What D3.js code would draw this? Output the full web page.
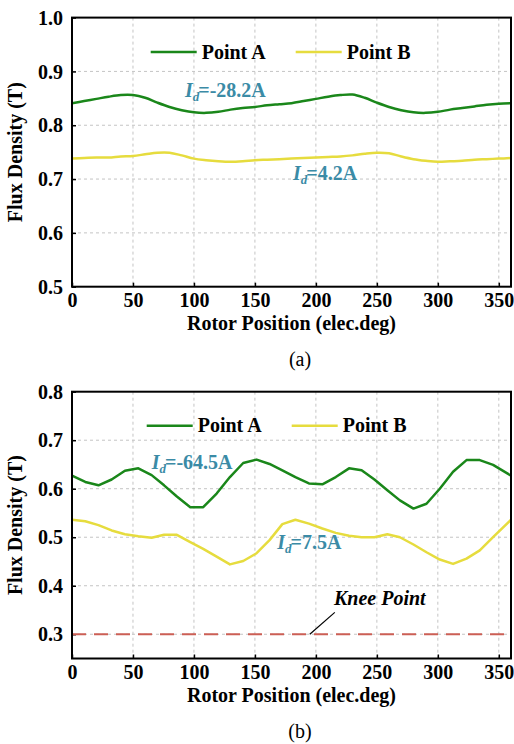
<!DOCTYPE html>
<html>
<head>
<meta charset="utf-8">
<script src="https://cdn.jsdelivr.net/npm/d3@7"></script>
<style>
  html, body { margin: 0; padding: 0; background: #fff; }
  svg { display: block; }
</style>
</head>
<body>
<svg id="fig" width="514" height="744"></svg>
<script>
// ---- Panel (a): Id = -28.2 A / 4.2 A ----
const anglesA = [0, 10, 20, 30, 40, 50, 60, 70, 80, 90, 100, 110, 120, 130, 140, 150, 160, 170, 180,
  190, 200, 210, 220, 230, 240, 250, 260, 270, 280, 290, 300, 310, 320, 330, 340, 350, 360];
const pointA_a = [0.841, 0.845, 0.849, 0.853, 0.856, 0.856, 0.851, 0.842, 0.834, 0.828, 0.824, 0.823,
  0.825, 0.829, 0.832, 0.834, 0.837, 0.839, 0.841, 0.845, 0.849, 0.853, 0.856, 0.857, 0.851, 0.842,
  0.834, 0.828, 0.824, 0.823, 0.825, 0.829, 0.832, 0.835, 0.838, 0.840, 0.841];
const pointB_a = [0.738, 0.739, 0.740, 0.740, 0.742, 0.743, 0.746, 0.749, 0.749, 0.744, 0.738, 0.735,
  0.733, 0.732, 0.733, 0.735, 0.736, 0.737, 0.738, 0.739, 0.740, 0.741, 0.742, 0.744, 0.747, 0.749,
  0.748, 0.742, 0.737, 0.734, 0.732, 0.733, 0.734, 0.736, 0.737, 0.738, 0.739];

// ---- Panel (b): Id = -64.5 A / 7.5 A ----
const anglesB = [0, 10.9, 21.7, 32.5, 43.4, 54.4, 65.3, 75.5, 86, 97, 107.6, 118.6, 129.5, 140.4,
  151.4, 162, 172.5, 183.2, 194.3, 205.3, 216.3, 227.2, 237.5, 248, 258.6, 268.9, 280, 290.7, 301.6,
  312.5, 323.5, 334.4, 345.3, 360];
const pointA_b = [0.627, 0.614, 0.607, 0.619, 0.637, 0.642, 0.628, 0.607, 0.584, 0.562, 0.562, 0.590,
  0.624, 0.653, 0.660, 0.651, 0.638, 0.624, 0.611, 0.609, 0.624, 0.642, 0.638, 0.619, 0.597, 0.576,
  0.559, 0.569, 0.600, 0.635, 0.659, 0.659, 0.649, 0.627];
const pointB_b = [0.536, 0.533, 0.525, 0.514, 0.506, 0.502, 0.499, 0.505, 0.505, 0.490, 0.476, 0.460,
  0.444, 0.451, 0.467, 0.494, 0.527, 0.536, 0.528, 0.518, 0.509, 0.503, 0.500, 0.500, 0.506, 0.500,
  0.485, 0.469, 0.454, 0.445, 0.456, 0.473, 0.500, 0.536];
const kneeFlux = 0.3;

// ---- Axis ticks and labels ----
const xTicks = [0, 50, 100, 150, 200, 250, 300, 350];
const yTicksA = [0.5, 0.6, 0.7, 0.8, 0.9, 1.0];
const yTicksB = [0.3, 0.4, 0.5, 0.6, 0.7, 0.8];
const seriesNames = ["Point A", "Point B"];
const xTitle = "Rotor Position (elec.deg)";
const yTitle = "Flux Density (T)";

const GREEN = "#1a871a";
const YELLOW = "#e6dc3e";
const TEAL = "#3b8ba6";
const KNEE = "#cc5f55";
const FS = 20;
const SERIF = "'Liberation Serif', 'Times New Roman', Tinos, 'DejaVu Serif', serif";

const svg = d3.select("#fig");

// styled text helper
function label(sel, size, weight, style) {
  return sel.style("font-family", SERIF).style("font-size", size + "px")
    .style("font-weight", weight || "normal").style("font-style", style || "normal");
}

function drawPanel(cfg) {
  const { top, bottom, left, right } = cfg;
  const x = d3.scaleLinear().domain([0, 360]).range([left, right]);
  const y = d3.scaleLinear().domain(cfg.yDomain).range([bottom, top]);
  const g = svg.append("g");

  const clipId = "clip-" + cfg.id;
  svg.append("clipPath").attr("id", clipId)
    .append("rect").attr("x", left).attr("y", top)
    .attr("width", right - left).attr("height", bottom - top);

  // grid
  const grid = g.append("g").attr("stroke", "#c4c4c4").attr("stroke-width", 1)
    .attr("stroke-dasharray", "3,3");
  grid.selectAll(".gx").data(xTicks.filter(t => t > 0)).join("line")
    .attr("x1", d => x(d)).attr("x2", d => x(d)).attr("y1", top).attr("y2", bottom);
  grid.selectAll(".gy").data(cfg.yTicks.filter(t => y(t) > top + 1 && y(t) < bottom - 1)).join("line")
    .attr("x1", left).attr("x2", right).attr("y1", d => y(d)).attr("y2", d => y(d));

  // axes with inward ticks
  const xAxis = d3.axisBottom(x).tickValues(xTicks).tickSize(-4).tickFormat(d3.format("d"));
  const yAxis = d3.axisLeft(y).tickValues(cfg.yTicks).tickSize(-4).tickPadding(9).tickFormat(d3.format(".1f"));
  const ax = g.append("g").attr("transform", `translate(0,${bottom})`).call(xAxis);
  const ay = g.append("g").attr("transform", `translate(${left},0)`).call(yAxis);
  [ax, ay].forEach(a => {
    a.select(".domain").remove();
    a.selectAll(".tick line").attr("stroke", "#000").attr("stroke-width", 1.5);
    label(a.selectAll(".tick text"), FS, "bold").attr("fill", "#000");
  });
  ax.selectAll(".tick text").attr("y", 20.5).attr("dy", null);
  ay.selectAll(".tick text").attr("dy", "0.33em");

  // series
  const line = d3.line().x(d => x(d[0])).y(d => y(d[1])).curve(cfg.curve);
  const plot = g.append("g").attr("clip-path", `url(#${clipId})`);
  if (cfg.knee !== undefined) {
    plot.append("line").attr("x1", left).attr("x2", right)
      .attr("y1", y(cfg.knee)).attr("y2", y(cfg.knee))
      .attr("stroke", KNEE).attr("stroke-width", 2).attr("stroke-dasharray", "14,8");
  }
  plot.append("path").datum(d3.zip(cfg.angles, cfg.seriesB))
    .attr("d", line).attr("fill", "none").attr("stroke", YELLOW).attr("stroke-width", 2.5)
    .attr("stroke-linejoin", "round");
  plot.append("path").datum(d3.zip(cfg.angles, cfg.seriesA))
    .attr("d", line).attr("fill", "none").attr("stroke", GREEN).attr("stroke-width", 2.5)
    .attr("stroke-linejoin", "round");

  // frame
  g.append("rect").attr("x", left).attr("y", top).attr("width", right - left)
    .attr("height", bottom - top).attr("fill", "none").attr("stroke", "#000").attr("stroke-width", 2);

  // legend
  const lg = g.append("g");
  [[cfg.legendX[0], GREEN, seriesNames[0]], [cfg.legendX[1], YELLOW, seriesNames[1]]].forEach(([lx, c, name]) => {
    lg.append("line").attr("x1", lx).attr("x2", lx + 46).attr("y1", cfg.legendY).attr("y2", cfg.legendY)
      .attr("stroke", c).attr("stroke-width", 2.5);
    label(lg.append("text"), FS, "bold").attr("x", lx + 51).attr("y", cfg.legendY + 6.7)
      .attr("fill", "#000").text(name);
  });

  // current labels
  cfg.notes.forEach(n => {
    const t = label(g.append("text"), FS, "bold").attr("x", n.x).attr("y", n.y).attr("fill", TEAL);
    t.append("tspan").style("font-style", "italic").text("I");
    t.append("tspan").style("font-style", "italic").style("font-size", "13px").attr("dy", 4).text("d");
    t.append("tspan").attr("dy", -4).attr("dx", -1).text("=" + n.value + "A");
  });

  // axis titles
  label(g.append("text"), FS, "bold").attr("x", (left + right) / 2).attr("y", bottom + 43)
    .attr("text-anchor", "middle").attr("fill", "#000").text(xTitle);
  label(g.append("text"), FS, "bold").attr("transform", `translate(15,${(top + bottom) / 2}) rotate(-90)`)
    .attr("text-anchor", "middle").attr("dy", "0.35em").attr("fill", "#000").text(yTitle);
  label(g.append("text"), FS, "normal").attr("x", 300).attr("y", bottom + 79)
    .attr("text-anchor", "middle").attr("fill", "#000").text(cfg.caption);

  return { x, y, g };
}

drawPanel({
  id: "a", top: 17.6, bottom: 286.7, left: 72, right: 511,
  yDomain: [0.5, 1.0], yTicks: yTicksA,
  angles: anglesA, seriesA: pointA_a, seriesB: pointB_a,
  curve: d3.curveCatmullRom,
  legendX: [150.7, 295.7], legendY: 52,
  notes: [{ x: 185, y: 96.5, value: "-28.2" }, { x: 293, y: 180, value: "4.2" }],
  caption: "(a)"
});

const pb = drawPanel({
  id: "b", top: 391.7, bottom: 658.5, left: 72, right: 511,
  yDomain: [0.25, 0.8], yTicks: yTicksB,
  angles: anglesB, seriesA: pointA_b, seriesB: pointB_b,
  curve: d3.curveLinear, knee: kneeFlux,
  legendX: [146.7, 291.7], legendY: 425.7,
  notes: [{ x: 151.7, y: 469, value: "-64.5" }, { x: 277.3, y: 549, value: "7.5" }],
  caption: "(b)"
});

// knee point call-out
pb.g.append("line")
  .attr("x1", pb.x(215.5)).attr("y1", pb.y(0.345))
  .attr("x2", pb.x(195)).attr("y2", pb.y(kneeFlux))
  .attr("stroke", "#000").attr("stroke-width", 1.2);
label(pb.g.append("text"), FS, "bold", "italic").attr("x", 334).attr("y", 605)
  .attr("fill", "#000").text("Knee Point");
</script>
</body>
</html>
